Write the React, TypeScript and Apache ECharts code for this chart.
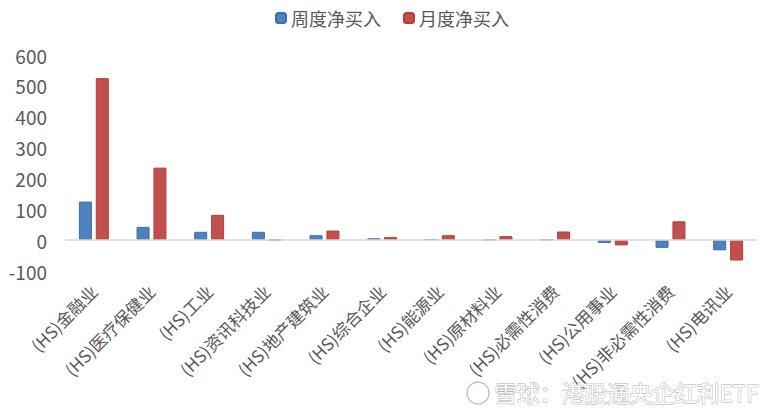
import React, { useEffect, useRef } from "react";
import * as echarts from "echarts";

const categories = [
  "(HS)金融业",
  "(HS)医疗保健业",
  "(HS)工业",
  "(HS)资讯科技业",
  "(HS)地产建筑业",
  "(HS)综合企业",
  "(HS)能源业",
  "(HS)原材料业",
  "(HS)必需性消费",
  "(HS)公用事业",
  "(HS)非必需性消费",
  "(HS)电讯业",
];
const weeklyNet = [125, 43, 27, 27, 16, 6, 3, 2, 2, -9, -25, -33];
const monthlyNet = [525, 235, 82, 1, 31, 10, 16, 13, 28, -17, 61, -66];
const seriesNames = ["周度净买入", "月度净买入"];
const yTicks = { min: -100, max: 600, interval: 100 };
const watermark = "雪球：港股通央企红利ETF";

const FONT = "'Noto Sans CJK SC', 'Noto Sans', sans-serif";

export default function App() {
  const ref = useRef<HTMLDivElement>(null);
  useEffect(() => {
    document.body.style.margin = "0";
    if (!ref.current) return;
    const chart = echarts.init(ref.current, null, { renderer: "svg" });
    chart.setOption({
      animation: false,
      backgroundColor: "#ffffff",
      textStyle: { fontFamily: FONT },
      legend: {
        top: 4,
        left: "center",
        itemWidth: 10,
        itemHeight: 10,
        itemGap: 22,
        textStyle: { fontSize: 18, color: "#595959", fontFamily: FONT },
        data: seriesNames,
      },
      grid: { left: 65, right: 27, top: 55, bottom: 149, containLabel: false },
      xAxis: {
        type: "category",
        data: categories,
        axisLine: { show: false, onZero: false },
        axisTick: { show: false },
        axisLabel: {
          interval: 0,
          rotate: 45,
          margin: 17,
          fontSize: 17,
          color: "#595959",
          fontFamily: FONT,
        },
      },
      yAxis: {
        type: "value",
        min: yTicks.min,
        max: yTicks.max,
        interval: yTicks.interval,
        splitLine: { show: false },
        axisLine: { show: false },
        axisTick: { show: false },
        axisLabel: { fontSize: 19, color: "#595959", margin: 18, fontFamily: FONT },
      },
      series: [
        {
          name: seriesNames[0],
          type: "bar",
          data: weeklyNet,
          barWidth: 13,
          barGap: "30%",
          itemStyle: { color: "#4F81BD", borderColor: "#3B6FB2", borderWidth: 1 },
          markLine: {
            silent: true,
            symbol: "none",
            label: { show: false },
            lineStyle: { color: "#D9D9D9", width: 1.5, type: "solid" },
            data: [{ yAxis: 0 }],
          },
        },
        {
          name: seriesNames[1],
          type: "bar",
          data: monthlyNet,
          barWidth: 13,
          itemStyle: { color: "#C0504D", borderColor: "#B93A3A", borderWidth: 1 },
        },
      ],
      graphic: [
        {
          type: "circle",
          shape: { cx: 478, cy: 393, r: 11 },
          style: { fill: "#ffffff", stroke: "#b8b8b8", lineWidth: 1.2 },
          z: 100,
        },
        {
          type: "text",
          left: 494,
          top: 380,
          style: {
            text: watermark,
            fontSize: 22.5,
            fontFamily: FONT,
            fill: "#ffffff",
            stroke: "#b0b0b0",
            lineWidth: 1,
          },
          z: 100,
        },
      ],
    });
    return () => chart.dispose();
  }, []);
  return <div ref={ref} style={{ width: 784, height: 420 }} />;
}
